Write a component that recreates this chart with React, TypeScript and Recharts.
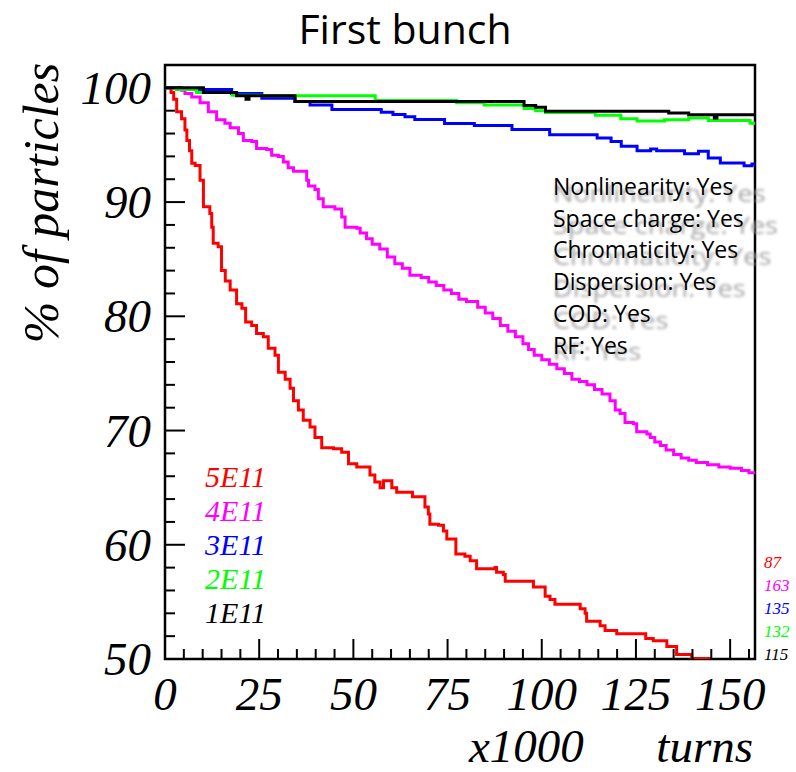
import React from 'react';
import { LineChart, Line, XAxis, YAxis, ReferenceArea } from 'recharts';

// turns (x1000) where each step starts, and % of particles from there on
const turns5 = [0, 1.6, 2.3, 3.1, 4.4, 5.3, 5.8, 6.5, 7.1, 8, 9.3, 10.2, 11.9, 12.4, 12.8, 14.1, 15, 16, 17.3, 19, 20.4, 21.4, 23, 24.3, 26.1, 27.4, 29.2, 30.1, 31.9, 33.2, 34.1, 35.4, 36.7, 38.5, 39.8, 41.6, 44.7, 46.9, 48.7, 50.9, 54.4, 55.7, 57.1, 58, 60.2, 61.5, 65.7, 69, 69.9, 70.3, 72.6, 73.9, 74.8, 77.2, 79.6, 81, 82.7, 87.6, 88, 89.8, 90.3, 97.8, 100.9, 102.2, 103.5, 110.2, 111.5, 111.9, 115.5, 116.8, 119.9, 127.6, 129.6, 133.2, 135.8, 139.8, 144.7, 156.6];
const pct5 = [100, 99.6, 99.0, 97.9, 97.3, 96.3, 95.4, 94.5, 93.4, 93.2, 91.9, 89.6, 89.0, 87.8, 86.4, 86.1, 84.0, 83.1, 82.3, 81.1, 80.7, 79.5, 79.2, 78.5, 78.2, 77.2, 76.6, 75.1, 74.5, 73.7, 72.6, 71.8, 70.9, 70.3, 69.4, 68.5, 68.4, 68.1, 67.1, 66.8, 66.1, 65.5, 65.0, 65.6, 65.0, 64.6, 64.2, 63.3, 62.7, 61.8, 61.7, 61.2, 60.5, 59.2, 59.0, 58.6, 57.9, 58.0, 57.6, 57.4, 56.8, 56.3, 55.5, 55.2, 54.8, 54.4, 54.0, 53.3, 52.9, 52.5, 52.2, 51.8, 51.6, 51.1, 50.4, 50.05, 49.6, 49.6];

const turns4 = [0, 2.2, 4.4, 5.3, 7.1, 9.3, 11.5, 13.7, 15.9, 17.3, 19.5, 20.8, 23, 24.3, 27, 28.3, 30.1, 31.4, 32.7, 34.1, 37.6, 38.1, 39.8, 40.7, 42, 45.1, 46.9, 47.8, 50.9, 51.8, 53.5, 55, 57, 59, 61, 63, 65, 68, 70, 72, 74, 76, 78, 80, 83, 85, 87, 89, 91, 93, 95, 96.5, 98, 100, 102, 104, 106, 108, 110, 112, 114, 116, 118.1, 119.5, 120.8, 122.1, 124.3, 125.2, 127.9, 128.8, 130, 131.5, 133, 135, 137, 139, 141, 144, 147, 150, 153, 155, 156.6];
const pct4 = [100, 100, 99.8, 99.5, 99.2, 98.7, 97.9, 97.2, 96.9, 96.5, 96.0, 95.4, 95.3, 94.7, 94.6, 94.1, 94.0, 93.5, 93.0, 92.7, 91.9, 91.4, 91.1, 90.3, 89.6, 89.4, 88.7, 87.8, 87.7, 87.3, 86.8, 86.3, 85.9, 85.2, 84.6, 84.2, 83.6, 83.4, 83.0, 82.7, 82.3, 82.0, 81.5, 81.3, 80.8, 80.3, 79.8, 79.2, 78.7, 78.2, 77.6, 77.1, 76.6, 76.2, 75.8, 75.4, 75.0, 74.5, 74.3, 74.0, 73.6, 73.2, 72.6, 71.8, 71.5, 70.7, 70.6, 69.9, 69.7, 69.4, 69.0, 68.7, 68.3, 67.9, 67.6, 67.4, 67.2, 67.0, 66.8, 66.7, 66.5, 66.3, 66.3];

const turns3 = [0, 4, 17.7, 25.7, 34.5, 38.5, 44.3, 57.4, 60.5, 63.7, 66.3, 74.2, 82.1, 92.1, 102.1, 114.7, 118.4, 121.1, 125.3, 128.9, 130.5, 137.9, 141.6, 144.2, 147.4, 153.7, 155.8, 156.6];
const pct3 = [100, 99.85, 99.5, 99.1, 98.8, 98.5, 98.1, 97.87, 97.66, 97.46, 97.22, 96.87, 96.7, 96.35, 95.9, 95.6, 95.3, 94.88, 94.5, 94.65, 94.5, 94.24, 94.44, 93.86, 93.42, 93.19, 93.33, 93.33];

const turns2 = [0, 3, 8.4, 17.9, 25.8, 55.8, 77.4, 84.7, 95.3, 98.4, 101, 114.2, 121, 125.3, 132.6, 139, 144.2, 155.3, 156.6];
const pct2 = [100, 99.85, 99.6, 99.35, 99.3, 98.9, 98.7, 98.5, 98.2, 98.0, 97.85, 97.6, 97.3, 97.1, 97.2, 97.35, 97.15, 96.9, 96.8];

const turns1 = [0, 10.2, 19, 21.5, 22.3, 34.5, 95.3, 98.4, 101, 133.7, 139, 145.8, 146.5, 156.6];
const pct1 = [100, 99.6, 99.3, 99.0, 99.3, 98.8, 98.45, 98.3, 97.95, 97.8, 97.65, 97.35, 97.65, 97.65];

const seriesNames = ['5E11', '4E11', '3E11', '2E11', '1E11'];
const seriesColors = ['#ff0000', '#ff00ff', '#0000ff', '#00ff00', '#000000'];
const sideCounts = ['87', '163', '135', '132', '115'];
const settings = ['Nonlinearity: Yes', 'Space charge: Yes', 'Chromaticity: Yes', 'Dispersion: Yes', 'COD: Yes', 'RF: Yes'];

const xTicks = Array.from({ length: 32 }, (_, i) => i * 5);
const yTicks = Array.from({ length: 26 }, (_, i) => 50 + i * 2);

const toRows = (t: number[], v: number[]) => t.map((x, i) => ({ t: x, v: v[i] }));
const series = [
  toRows(turns5, pct5),
  toRows(turns4, pct4),
  toRows(turns3, pct3),
  toRows(turns2, pct2),
  toRows(turns1, pct1),
];

const serif = '"Liberation Serif", "Times New Roman", serif';
const sans = '"Open Sans", "Noto Sans", sans-serif';

const XTick = (props: any) => {
  const { x, y, payload } = props;
  const major = payload.value % 25 === 0;
  return (
    <g>
      <line x1={x} x2={x} y1={y} y2={y - (major ? 20 : 10)} stroke="#000" strokeWidth={2} />
      {major && (
        <text x={x} y={y + 51} textAnchor="middle" fontFamily={serif} fontStyle="italic" fontSize={47} fill="#000">
          {payload.value}
        </text>
      )}
    </g>
  );
};

const YTick = (props: any) => {
  const { x, y, payload } = props;
  const major = payload.value % 10 === 0;
  return (
    <g>
      <line x1={x} x2={x + (major ? 20 : 10)} y1={y} y2={y} stroke="#000" strokeWidth={2} />
      {major && (
        <text x={x - 14} y={y} dy="0.34em" textAnchor="end" fontFamily={serif} fontStyle="italic" fontSize={47} fill="#000">
          {payload.value}
        </text>
      )}
    </g>
  );
};

export default function App() {
  return (
    <div style={{ position: 'absolute', left: 0, top: 0, width: 796, height: 772, background: '#fff' }}>
      <LineChart width={796} height={772} margin={{ top: 65, right: 41, bottom: 0, left: 0 }}>
        <XAxis
          dataKey="t"
          type="number"
          domain={[0, 156.6]}
          allowDataOverflow
          ticks={xTicks}
          interval={0}
          height={113}
          tickSize={0}
          tickMargin={0}
          axisLine={false}
          tick={XTick}
        />
        <YAxis
          type="number"
          domain={[50, 102]}
          allowDataOverflow
          ticks={yTicks}
          interval={0}
          width={165}
          tickSize={0}
          tickMargin={0}
          axisLine={false}
          tick={YTick}
        />
        {series.map((rows, i) => (
          <Line
            key={seriesNames[i]}
            data={rows}
            dataKey="v"
            type="stepAfter"
            stroke={seriesColors[i]}
            strokeWidth={3}
            dot={false}
            isAnimationActive={false}
          />
        ))}
        <ReferenceArea x1={0} x2={156.6} y1={50} y2={102} fill="none" stroke="#000" strokeWidth={2.5} ifOverflow="visible" />
      </LineChart>
      <svg width={796} height={772} style={{ position: 'absolute', left: 0, top: 0, pointerEvents: 'none' }}>
        <defs>
          <filter id="soft" x="-10%" y="-50%" width="130%" height="200%">
            <feGaussianBlur stdDeviation="1.5" />
          </filter>
        </defs>
        <text x={405} y={44} textAnchor="middle" fontFamily={sans} fontSize={41} fill="#000">
          First bunch
        </text>
        <text
          x={58}
          y={203}
          transform="rotate(-90 58 203)"
          textAnchor="middle"
          fontFamily={serif}
          fontStyle="italic"
          fontSize={50}
          fill="#000"
        >
          % of particles
        </text>
        <text x={469} y={762} fontFamily={serif} fontStyle="italic" fontSize={47} fill="#000">
          x1000
        </text>
        <text x={753} y={762} textAnchor="end" fontFamily={serif} fontStyle="italic" fontSize={47} fill="#000">
          turns
        </text>
        {seriesNames.map((n, i) => (
          <text key={n} x={205} y={477 + i * 34} dy="0.34em" fontFamily={serif} fontStyle="italic" fontSize={30} fill={seriesColors[i]}>
            {n}
          </text>
        ))}
        {sideCounts.map((c, i) => (
          <text key={c} x={764} y={562 + i * 23} dy="0.34em" fontFamily={serif} fontStyle="italic" fontSize={17} fill={seriesColors[i]}>
            {c}
          </text>
        ))}
        {settings.map((s, i) => (
          <g key={s}>
            <text
              x={553}
              y={195 + i * 31.7 + 7}
              transform={`translate(553 0) scale(1.18 1) translate(-553 0)`}
              fontFamily={sans}
              fontSize={23}
              fill="#a4a4a4"
              filter="url(#soft)"
            >
              {s}
            </text>
            <text x={553} y={195 + i * 31.7} fontFamily={sans} fontSize={23} fill="#000">
              {s}
            </text>
          </g>
        ))}
      </svg>
    </div>
  );
}
